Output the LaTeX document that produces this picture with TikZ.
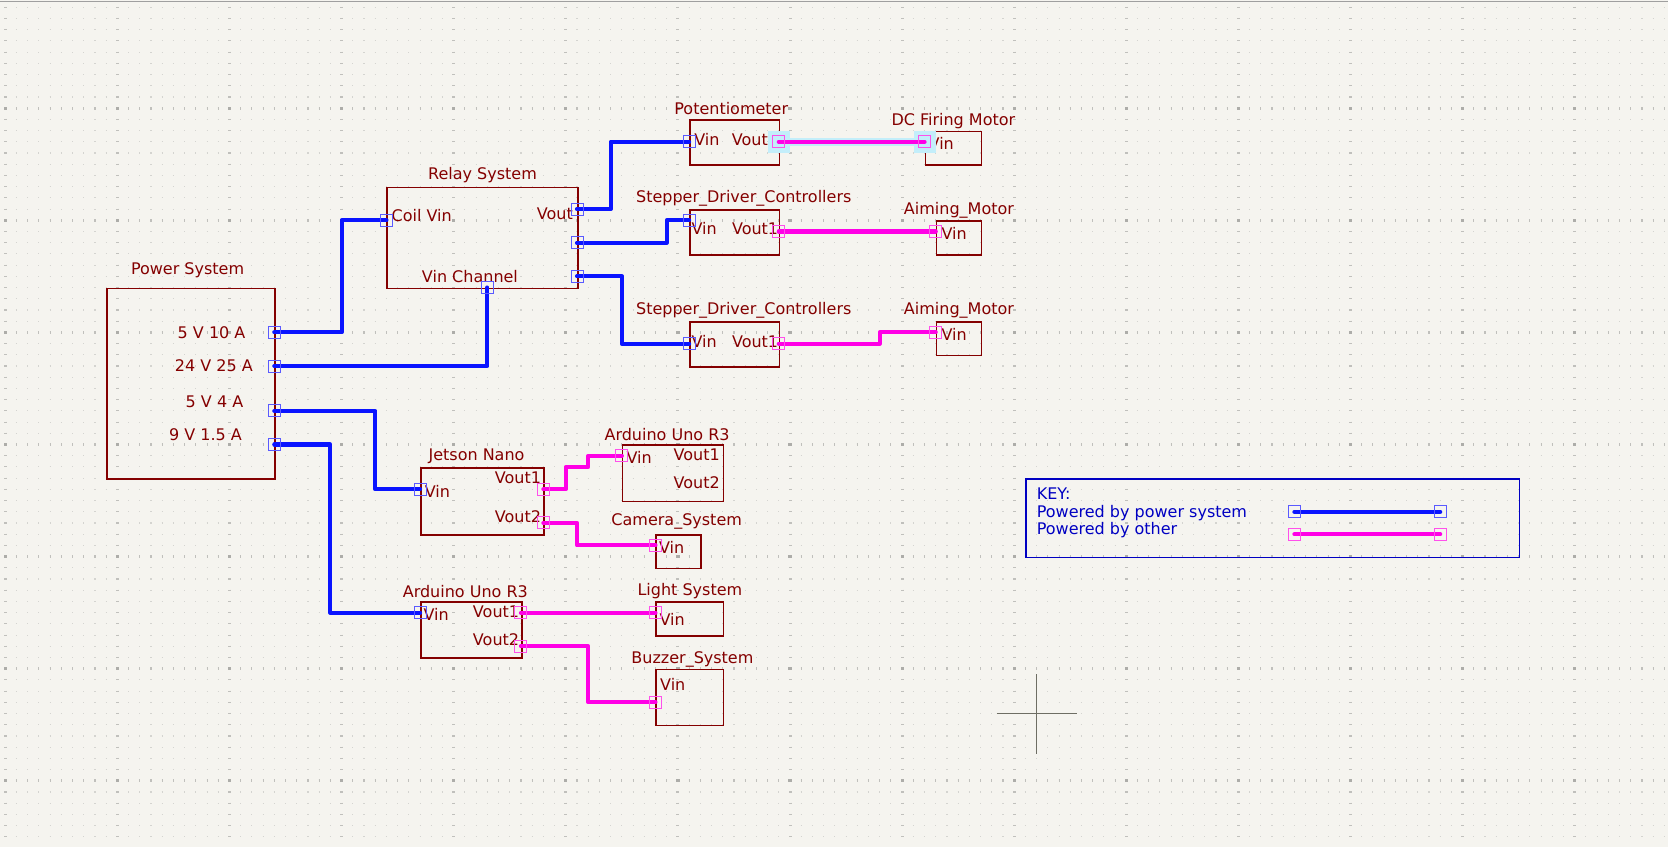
\documentclass[tikz,border=0pt]{standalone}
\usepackage{fontspec}
\setmainfont{DejaVu Sans}
\usetikzlibrary{positioning}

\definecolor{kired}{RGB}{132,0,0}
\definecolor{kibg}{RGB}{245,244,239}
\definecolor{wireblue}{RGB}{10,20,255}
\definecolor{wiremag}{RGB}{255,0,230}
\definecolor{pinblue}{RGB}{90,90,255}
\definecolor{pinmag}{RGB}{255,80,235}
\definecolor{keyblue}{RGB}{0,0,194}
\definecolor{hilite}{RGB}{195,238,250}
\definecolor{gdotc}{RGB}{212,212,208}
\definecolor{gmajc}{RGB}{192,192,188}
\definecolor{cursorc}{RGB}{110,110,100}

\newcommand{\kisize}{\fontsize{16pt}{19pt}\selectfont}

\begin{document}
\begin{tikzpicture}[x=11.21pt, y=-11.21pt]
        \tikzset{sheet/.style 2 args={draw=kired, line width=1.6pt, inner sep=0pt, anchor=north west, minimum width=#1*11.21pt, minimum height=#2*11.21pt}}
        \tikzstyle{ttl} = [text=kired, font=\kisize, inner sep=0pt, text depth=0pt]
        \tikzstyle{plbl} = [text=kired, font=\kisize, inner sep=0pt, text height=11.6pt, text depth=0pt]
        \tikzstyle{keytxt} = [plbl, text=keyblue, anchor=west]
        \tikzstyle{pwr} = [draw=wireblue, line width=4.2pt, line cap=round, line join=round]
        \tikzstyle{oth} = [draw=wiremag, line width=4.2pt, line cap=round, line join=round]
        \tikzstyle{pinb} = [draw=pinblue, line width=1pt]
        \tikzstyle{pinm} = [draw=pinmag, line width=1pt]
        \tikzstyle{gdot} = [draw=gdotc, line width=1.1pt, dash pattern=on 1.1pt off 10.11pt]
        \tikzstyle{gmaj} = [draw=gmajc, line width=3pt, dash pattern=on 1.1pt off 10.11pt]

        % page and grid
        \useasboundingbox (-5.3pt,7.3pt) rectangle ++(1668pt,-847pt);
        \fill[kibg] (-5.3pt,7.3pt) rectangle ++(1668pt,-847pt);
        \draw[gray!75, line width=1.2pt] (-5.3pt,6pt) -- ++(1668pt,0pt);
        \foreach \r in {0,...,74}
            \draw[gdot] ([xshift=-0.55pt]0,\r) -- (148.6,\r);
        \foreach \r in {9,19,...,69}
            \draw[gmaj] ([xshift=-0.55pt]0,\r) -- (148.6,\r);
        \foreach \c in {0,10,...,140} {
            \draw[gmaj] ([yshift=0.55pt]\c,0) -- (\c,74.9);
            \foreach \r in {9,19,...,69}
                \fill[gmajc!90!black] (\c,\r) +(-1.6pt,-1.6pt) rectangle +(1.6pt,1.6pt);
        }

        % sheets
        \node[sheet={15}{17}] (power) at (9,25) {};
        \node[sheet={17}{9}] (relay) at (34,16) {};
        \node[sheet={8}{4}] (pot) at (61,10) {};
        \node[sheet={5}{3}] (dcm) at (82,11) {};
        \node[sheet={8}{4}] (sdA) at (61,18) {};
        \node[sheet={4}{3}] (amA) at (83,19) {};
        \node[sheet={8}{4}] (sdB) at (61,28) {};
        \node[sheet={4}{3}] (amB) at (83,28) {};
        \node[sheet={11}{6}] (jetson) at (37,41) {};
        \node[sheet={9}{5}] (unoA) at (55,39) {};
        \node[sheet={4}{3}] (cam) at (58,47) {};
        \node[sheet={9}{5}] (unoB) at (37,53) {};
        \node[sheet={6}{3}] (light) at (58,53) {};
        \node[sheet={6}{5}] (buzz) at (58,59) {};

        % sheet names
        \node[ttl, above=13pt of power, xshift=-3.5pt] (powerT) {Power System};
        \node[ttl, above=7pt of relay] (relayT) {Relay System};
        \node[ttl, above=5pt of pot, xshift=-3.5pt] (potT) {Potentiometer};
        \node[ttl, above=5pt of dcm] (dcmT) {DC Firing Motor};
        \node[ttl, above=6pt of sdA, xshift=9pt] (sdAT) {Stepper\_Driver\_Controllers};
        \node[ttl, above=6pt of amA] (amAT) {Aiming\_Motor};
        \node[ttl, above=6pt of sdB, xshift=9pt] (sdBT) {Stepper\_Driver\_Controllers};
        \node[ttl, above=6pt of amB] (amBT) {Aiming\_Motor};
        \node[ttl, above=6pt of jetson, xshift=-6pt] (jetsonT) {Jetson Nano};
        \node[ttl, above=3.5pt of unoA, xshift=-6pt] (unoAT) {Arduino Uno R3};
        \node[ttl, above=8pt of cam, xshift=-2pt] (camT) {Camera\_System};
        \node[ttl, above=4pt of unoB, xshift=-6pt] (unoBT) {Arduino Uno R3};
        \node[ttl, above=5.5pt of light] (lightT) {Light System};
        \node[ttl, above=5pt of buzz, xshift=2.5pt] (buzzT) {Buzzer\_System};

        % pin texts
        \node[plbl] (psLa) at (18.4,29) {5 V 10 A};
        \node[plbl] (psLb) at (18.6,32) {24 V 25 A};
        \node[plbl] (psLc) at (18.66,35.2) {5 V 4 A};
        \node[plbl] (psLd) at (17.86,38.15) {9 V 1.5 A};
        \node[plbl, anchor=west] (rlLcoil) at (34.45,18.55) {Coil Vin};
        \node[plbl, anchor=east] (rlLout) at (50.65,18.4) {Vout};
        \node[plbl] (rlLchan) at (41.45,24) {Vin Channel};
        \node[plbl, anchor=west] (ptLin) at (61.45,11.85) {Vin};
        \node[plbl, anchor=east] (ptLout) at (68.95,11.85) {Vout1};
        \node[plbl, anchor=west] (dcLin) at (82.35,12.15) {Vin};
        \node[plbl, anchor=west] (sdALin) at (61.2,19.75) {Vin};
        \node[plbl, anchor=east] (sdALout) at (68.96,19.75) {Vout1};
        \node[plbl, anchor=west] (amALin) at (83.5,20.2) {Vin};
        \node[plbl, anchor=west] (sdBLin) at (61.2,29.8) {Vin};
        \node[plbl, anchor=east] (sdBLout) at (68.96,29.8) {Vout1};
        \node[plbl, anchor=west] (amBLin) at (83.5,29.2) {Vin};
        \node[plbl, anchor=west] (jnLin) at (37.4,43.2) {Vin};
        \node[plbl, anchor=east] (jnLoutA) at (47.8,42) {Vout1};
        \node[plbl, anchor=east] (jnLoutB) at (47.8,45.45) {Vout2};
        \node[plbl, anchor=west] (unoALin) at (55.4,40.2) {Vin};
        \node[plbl, anchor=east] (unoALoutA) at (63.75,39.95) {Vout1};
        \node[plbl, anchor=east] (unoALoutB) at (63.75,42.4) {Vout2};
        \node[plbl, anchor=west] (camLin) at (58.3,48.2) {Vin};
        \node[plbl, anchor=west] (unoBLin) at (37.3,54.2) {Vin};
        \node[plbl, anchor=east] (unoBLoutA) at (45.85,53.9) {Vout1};
        \node[plbl, anchor=east] (unoBLoutB) at (45.85,56.4) {Vout2};
        \node[plbl, anchor=west] (ltLin) at (58.35,54.65) {Vin};
        \node[plbl, anchor=west] (bzLin) at (58.4,60.45) {Vin};

        % pins
        \coordinate (psA) at (24,29);
        \coordinate (psB) at (24,32);
        \coordinate (psC) at (24,36);
        \coordinate (psD) at (24,39);
        \coordinate (rlCoil) at (34,19);
        \coordinate (rlChan) at (43,25);
        \coordinate (rlOutA) at (51,18);
        \coordinate (rlOutB) at (51,21);
        \coordinate (rlOutC) at (51,24);
        \coordinate (ptVin) at (61,12);
        \coordinate (ptVout) at (69,12);
        \coordinate (dcVin) at (82,12);
        \coordinate (sdAVin) at (61,19);
        \coordinate (sdAVout) at (69,20);
        \coordinate (amAVin) at (83,20);
        \coordinate (sdBVin) at (61,30);
        \coordinate (sdBVout) at (69,30);
        \coordinate (amBVin) at (83,29);
        \coordinate (jnVin) at (37,43);
        \coordinate (jnVoutA) at (48,43);
        \coordinate (jnVoutB) at (48,46);
        \coordinate (unoAVin) at (55,40);
        \coordinate (camVin) at (58,48);
        \coordinate (unoBVin) at (37,54);
        \coordinate (unoBVoutA) at (46,54);
        \coordinate (unoBVoutB) at (46,57);
        \coordinate (ltVin) at (58,54);
        \coordinate (bzVin) at (58,62);

        % selected net
        \foreach \p in {ptVout,dcVin}
            \fill[hilite] ([xshift=-11pt,yshift=-11pt]\p) rectangle ([xshift=11pt,yshift=11pt]\p);
        \draw[hilite, line width=8pt] (ptVout) -- (dcVin);

        % wires
        \draw[pwr] (psA) -- ++(6,0) |- (rlCoil);
        \draw[pwr] (psB) -| (rlChan);
        \draw[pwr] (psC) -- ++(9,0) |- (jnVin);
        \draw[pwr] (psD) -- ++(5,0) |- (unoBVin);
        \draw[pwr] (rlOutA) -- ++(3,0) |- (ptVin);
        \draw[pwr] (rlOutB) -- ++(8,0) |- (sdAVin);
        \draw[pwr] (rlOutC) -- ++(4,0) |- (sdBVin);
        \draw[oth] (ptVout) -- (dcVin);
        \draw[oth] (sdAVout) -- (amAVin);
        \draw[oth] (sdBVout) -- ++(9,0) |- (amBVin);
        \draw[oth] (jnVoutA) -- ++(2,0) -- ++(0,-2) -- ++(2,0) |- (unoAVin);
        \draw[oth] (jnVoutB) -- ++(3,0) |- (camVin);
        \draw[oth] (unoBVoutA) -- (ltVin);
        \draw[oth] (unoBVoutB) -- ++(6,0) |- (bzVin);

        % key
        \node[sheet={44}{7}, draw=keyblue, line width=1.7pt] (key) at (91,42) {};
        \node[keytxt] (keyL) at (92,43.35) {KEY:};
        \node[keytxt] (keyLb) at (92,45) {Powered by power system};
        \node[keytxt] (keyLm) at (92,46.54) {Powered by other};
        \coordinate (kyA) at (115,45);
        \coordinate (kyB) at (128,45);
        \coordinate (kyC) at (115,47);
        \coordinate (kyD) at (128,47);
        \draw[pwr] (kyA) -- (kyB);
        \draw[oth] (kyC) -- (kyD);

        \foreach \p in {psA,psB,psC,psD,rlCoil,rlChan,rlOutA,rlOutB,rlOutC,ptVin,sdAVin,sdBVin,jnVin,unoBVin,kyA,kyB}
            \draw[pinb] ([xshift=-6pt,yshift=-6pt]\p) rectangle ([xshift=6pt,yshift=6pt]\p);
        \foreach \p in {ptVout,dcVin,sdAVout,amAVin,sdBVout,amBVin,jnVoutA,jnVoutB,unoAVin,camVin,unoBVoutA,unoBVoutB,ltVin,bzVin,kyC,kyD}
            \draw[pinm] ([xshift=-6pt,yshift=-6pt]\p) rectangle ([xshift=6pt,yshift=6pt]\p);

        % cursor
        \coordinate (cursor) at (92,63);
        \draw[cursorc, line width=1.3pt] ([xshift=-40pt]cursor) -- ([xshift=40pt]cursor);
        \draw[cursorc, line width=1.3pt] ([yshift=-40pt]cursor) -- ([yshift=40pt]cursor);
    \end{tikzpicture}
\end{document}
